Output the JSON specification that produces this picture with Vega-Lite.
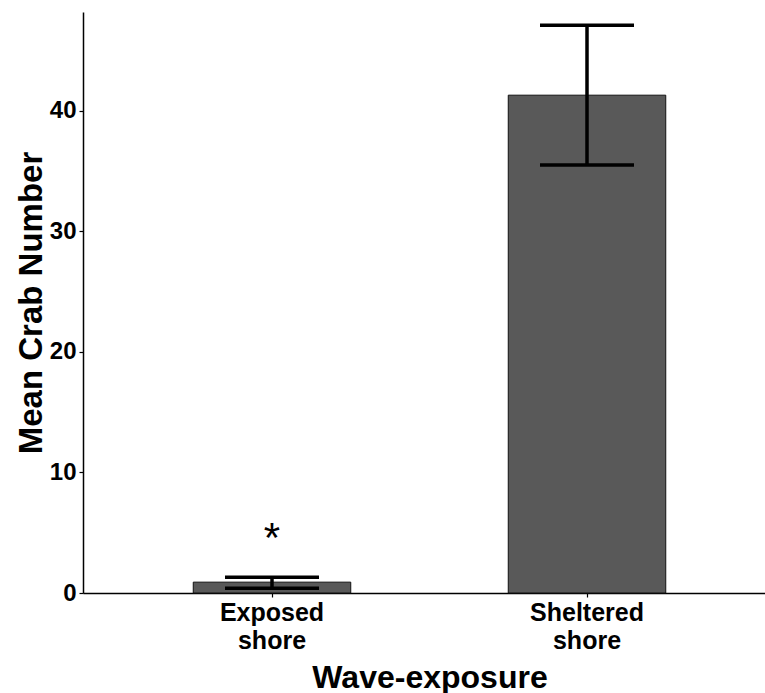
{
  "$schema": "https://vega.github.io/schema/vega-lite/v6.json",
  "autosize": {"type": "none"},
  "padding": {"left": 83, "top": 12, "right": 0, "bottom": 100},
  "width": 693,
  "height": 581,
  "background": "white",
  "config": {
    "view": {"stroke": null},
    "font": "Liberation Sans",
    "axis": {"grid": false, "domainColor": "black", "domainWidth": 1.5, "tickColor": "black", "tickSize": 4, "tickWidth": 1.2, "labelColor": "black", "titleColor": "black", "labelFont": "Liberation Sans", "titleFont": "Liberation Sans", "labelFontWeight": "bold", "titleFontWeight": "bold"}
  },
  "data": {"values": [
    {"shore": "Exposed shore", "mean": 0.9, "lo": 0.4, "hi": 1.3, "sig": "*", "sigY": 3.4},
    {"shore": "Sheltered shore", "mean": 41.3, "lo": 35.5, "hi": 47.1, "sig": "", "sigY": 0}
  ]},
  "encoding": {
    "x": {"field": "shore", "type": "nominal", "sort": null,
      "scale": {"paddingInner": 0.5, "paddingOuter": 0.35},
      "axis": {"title": "Wave-exposure", "labelAngle": 0, "labelFontSize": 25, "labelLineHeight": 28, "labelPadding": 3, "titleFontSize": 32, "titlePadding": 9, "labelExpr": "split(datum.label, ' ')"}}
  },
  "layer": [
    {
      "mark": {"type": "bar", "fill": "#595959", "stroke": "#111111", "strokeWidth": 1},
      "encoding": {
        "y": {"field": "mean", "type": "quantitative", "scale": {"domain": [0, 48.2], "nice": false, "zero": true},
          "axis": {"title": "Mean Crab Number", "values": [0, 10, 20, 30, 40], "labelFontSize": 24, "labelPadding": 3, "titleFontSize": 33, "titlePadding": 1}}
      }
    },
    {
      "mark": {"type": "rule", "color": "black", "strokeWidth": 3.5},
      "encoding": {
        "y": {"field": "lo", "type": "quantitative"},
        "y2": {"field": "hi"}
      }
    },
    {
      "mark": {"type": "tick", "color": "black", "opacity": 1, "thickness": 3.5, "size": 94, "orient": "horizontal"},
      "encoding": {"y": {"field": "hi", "type": "quantitative"}}
    },
    {
      "mark": {"type": "tick", "color": "black", "opacity": 1, "thickness": 3.5, "size": 94, "orient": "horizontal"},
      "encoding": {"y": {"field": "lo", "type": "quantitative"}}
    },
    {
      "mark": {"type": "text", "fontSize": 42, "color": "black", "baseline": "alphabetic", "font": "Liberation Sans"},
      "encoding": {
        "y": {"field": "sigY", "type": "quantitative"},
        "text": {"field": "sig"}
      }
    }
  ]
}
